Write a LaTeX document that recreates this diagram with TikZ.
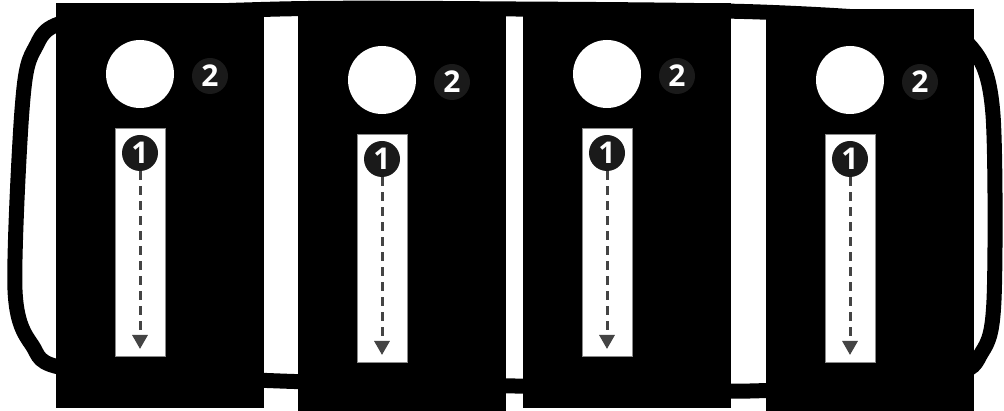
\documentclass[tikz,border=0pt]{standalone}
\usepackage{fontspec}
\setsansfont{Open Sans}
\usetikzlibrary{arrows.meta,positioning,calc}
\definecolor{badgeInk}{HTML}{1A1A1A}
\definecolor{stripEdge}{HTML}{8A8A8A}
\definecolor{dashInk}{HTML}{444444}

\begin{document}
\begin{tikzpicture}[x=1pt,y=-1pt,>=Latex,
  panel/.style={fill=black,draw=none,anchor=north west,minimum width=208pt,inner sep=0pt,outer sep=0pt},
  lamp/.style={circle,fill=white,minimum size=68pt,inner sep=0pt},
  badge/.style={circle,fill=badgeInk,text=white,minimum size=36pt,inner sep=0pt,font=\sffamily\bfseries\fontsize{30}{30}\selectfont},
  strip/.style={draw=stripEdge,fill=white,line width=1pt,anchor=north west,minimum width=50pt,minimum height=228pt,inner sep=0pt}
]
  \useasboundingbox (0,0) rectangle (1004,411);

  % the loop behind the panels
  \draw[line width=15pt] plot[smooth cycle,tension=0.5] coordinates {
    (75,20) (280,9) (515,9) (760,12) (925,24) (975,52) (993,115) (994,300)
    (982,352) (945,376) (750,391) (515,386) (280,381) (70,369) (32,345)
    (15,290) (22,110) (34,50)};

  \foreach \px/\dy/\ph [count=\i] in {56/0/405,298/6/402,523/0/405,766/6/402}{
    \node[panel,minimum height=\ph pt] (panel\i) at (\px,3+\dy) {};
    \node[lamp] (lamp\i) at (\px+84,74+\dy) {};
    \node[badge] (two\i) at (\px+154,76+\dy) {2};
    \node[strip] (strip\i) at (\px+59,128+\dy) {};
    \node[badge] (one\i) at (\px+84,153+\dy) {1};
    \coordinate (tip\i) at (\px+84,349+\dy);
    \draw[dashInk,line width=3pt,dash pattern=on 9pt off 6pt,-{Triangle[width=15pt,length=14pt]}] (one\i) -- (tip\i);
  }
\end{tikzpicture}
\end{document}
